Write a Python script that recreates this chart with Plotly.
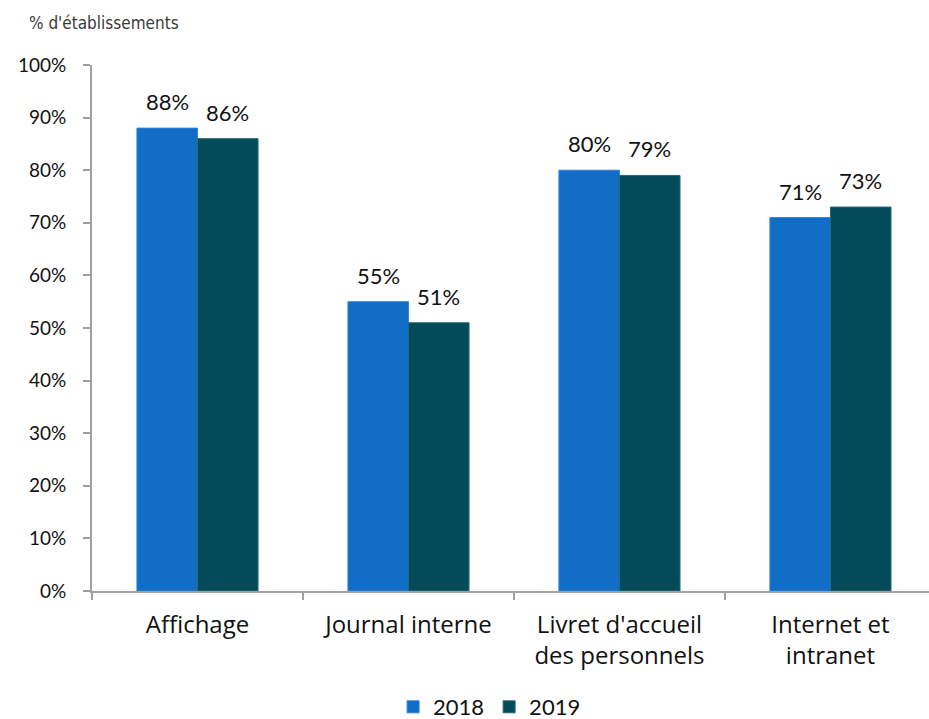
import plotly.graph_objects as go

# Moyens de communication utilisés, part des établissements
categories = ["Affichage", "Journal interne", "Livret d'accueil<br>des personnels", "Internet et<br>intranet"]
values_2018 = [88, 55, 80, 71]
values_2019 = [86, 51, 79, 73]
series_names = ["2018", "2019"]
colors = ["#116dc6", "#044b5a"]
edge_colors = ["#2f84d4", "#2a6a78"]
y_ticks = [0, 10, 20, 30, 40, 50, 60, 70, 80, 90, 100]
y_tick_text = [f"{v}%" for v in y_ticks]

num_font = "Lato, Open Sans, sans-serif"
cat_font = "Open Sans, Noto Sans, sans-serif"
title_font = "DejaVu Sans Condensed, sans-serif"

fig = go.Figure()
for name, vals, col, edge in zip(series_names, [values_2018, values_2019], colors, edge_colors):
    fig.add_trace(go.Bar(
        x=categories, y=vals, name=name,
        marker=dict(color=col, line=dict(color=edge, width=1)),
        hoverinfo="skip",
    ))

# value labels above each bar
n_series = len(series_names)
bar_group = 0.574
bar_w = bar_group / n_series
annotations = []
for s, vals in enumerate([values_2018, values_2019]):
    for i, v in enumerate(vals):
        xpos = i - bar_group / 2 + bar_w * (s + 0.5)
        annotations.append(dict(
            x=xpos, y=v, xref="x", yref="y", text=f"{v}%",
            showarrow=False, yanchor="bottom", yshift=11,
            font=dict(family=num_font, size=22, color="#111111"),
        ))

# axis title in the top-left corner, outside the plot area
plot_w = 929 - 92
plot_h = 719 - 65 - 128
annotations.append(dict(
    x=(27 - 92) / plot_w, y=(591 - 23) / plot_h, xref="paper", yref="paper",
    text="% d'établissements",
    showarrow=False, xanchor="left", yanchor="middle",
    font=dict(family=title_font, size=17, color="#3a3a3a"),
))

fig.update_layout(
    width=929, height=719,
    margin=dict(l=92, r=0, t=65, b=128, autoexpand=False),
    paper_bgcolor="white", plot_bgcolor="white",
    barmode="group", bargap=1 - bar_group, bargroupgap=0,
    showlegend=True,
    legend=dict(
        orientation="h", x=0.475, xanchor="center",
        yref="container", y=12 / 719, yanchor="middle",
        font=dict(family=num_font, size=22, color="#111111"),
        itemwidth=30, traceorder="normal",
    ),
    annotations=annotations,
    xaxis=dict(
        type="category", range=[-0.5, 3.467], automargin=False,
        showline=True, linecolor="#a0a0a0", linewidth=2,
        ticks="outside", tickson="boundaries", ticklen=7, tickcolor="#a0a0a0", tickwidth=2,
        tickfont=dict(family=cat_font, size=24, color="#111111"),
        ticklabelstandoff=11,
        showgrid=False, zeroline=False, fixedrange=True,
    ),
    yaxis=dict(
        range=[0, 100], tickvals=y_ticks, ticktext=y_tick_text, automargin=False,
        showline=True, linecolor="#a0a0a0", linewidth=2,
        ticks="outside", ticklen=7, tickcolor="#a0a0a0", tickwidth=2,
        tickfont=dict(family=num_font, size=19, color="#111111"),
        ticklabelstandoff=13,
        showgrid=False, zeroline=False, fixedrange=True,
    ),
)

fig.write_html("out.html")
